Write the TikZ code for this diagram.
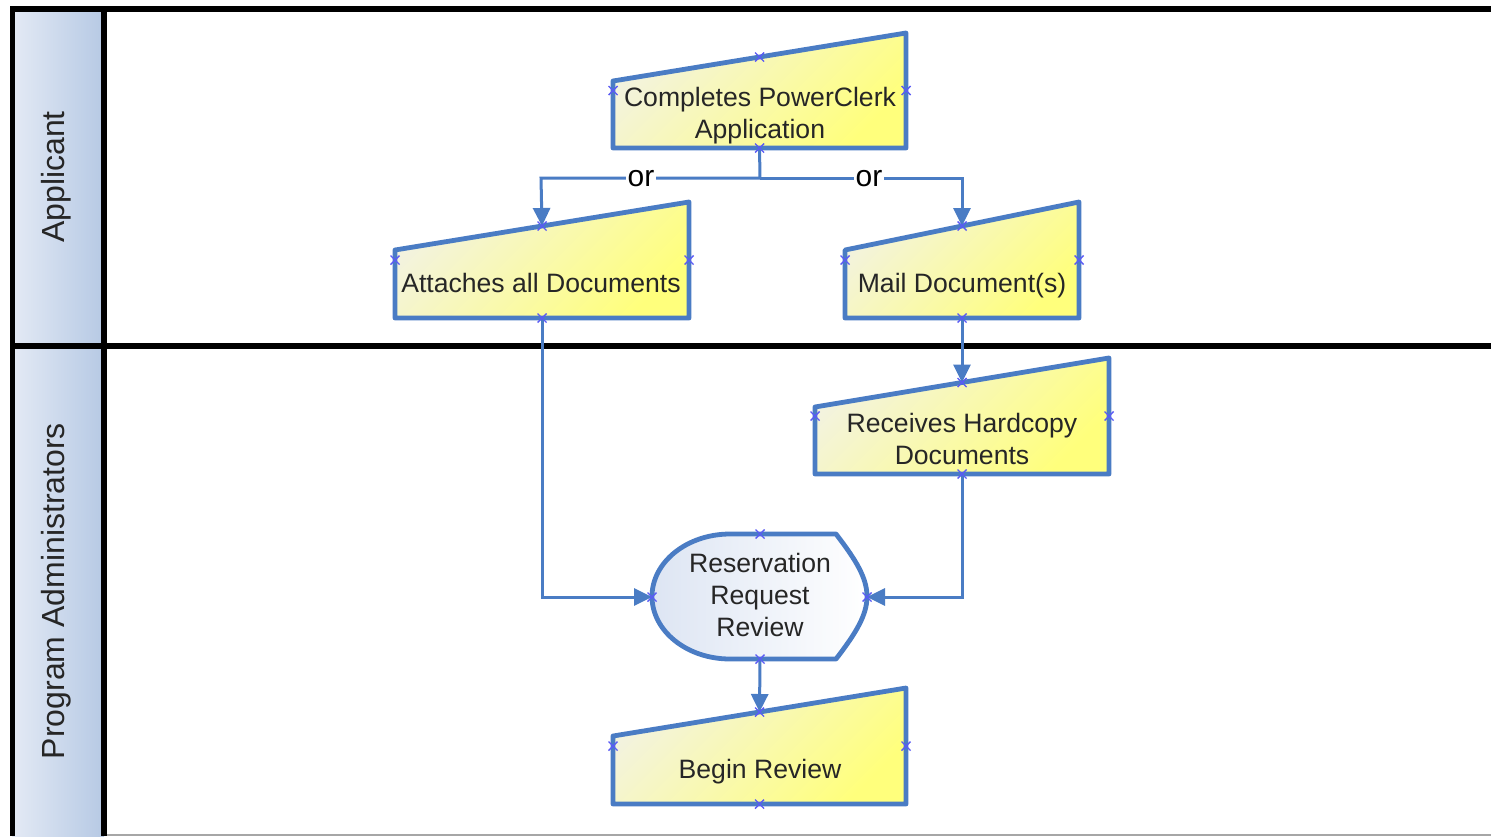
\documentclass[tikz,border=0pt]{standalone}
\usepackage{fontspec}
\setmainfont{Liberation Sans}
\usetikzlibrary{arrows.meta,calc}
\definecolor{flowblue}{HTML}{4A7CC4}
\definecolor{markblue}{HTML}{5A5AF5}
\definecolor{ylight}{HTML}{F3F3DE}
\definecolor{ydark}{HTML}{FFFF7C}
\definecolor{hlight}{HTML}{E4EAF5}
\definecolor{hdark}{HTML}{B6C9E4}
\definecolor{dlight}{HTML}{DDE5F3}
\definecolor{txt}{HTML}{262626}
\tikzset{
  frameline/.style={line width=2.8pt, black},
  shapeborder/.style={draw=flowblue, line width=2.4pt, line join=round},
  yfill/.style={top color=ylight, bottom color=ydark, shading angle=45},
  dfill/.style={left color=dlight, right color=white},
  hfill/.style={left color=hlight, right color=hdark},
  boxtext/.style={text=txt, font=\fontsize{13.3}{16}\selectfont, align=center, inner sep=0pt, anchor=base},
  lanetext/.style={text=txt, font=\fontsize{16}{19}\selectfont, rotate=90, inner sep=0pt},
  ortext/.style={text=black, font=\fontsize{15}{18}\selectfont, fill=white, inner sep=1pt},
  conn/.style={draw=flowblue, line width=1.5pt},
  arr/.style={conn, -{Triangle[length=9pt,width=8.5pt]}},
  cpmarkstyle/.style={draw=markblue, line width=0.7pt},
}
% manual input shape: name, x1, x2, yTopLeft, yTopRight, yBottom
\newcommand\mishape[6]{%
  \path[shapeborder, yfill] (#2,#6) -- (#2,#4) -- (#3,#5) -- (#3,#6) -- cycle;
  \coordinate (#1-t) at ({(#2+#3)/2},{(#4+#5)/2});
  \coordinate (#1-b) at ({(#2+#3)/2},#6);
  \coordinate (#1-l) at (#2,{(#5+#6)/2});
  \coordinate (#1-r) at (#3,{(#5+#6)/2});
}
\newcommand\cpmark[1]{%
  \draw[cpmarkstyle] ($(#1)+(-4.5,-4.5)$) -- ($(#1)+(4.5,4.5)$)
                     ($(#1)+(-4.5,4.5)$) -- ($(#1)+(4.5,-4.5)$);
}
\begin{document}
\begin{tikzpicture}[x=0.5pt,y=-0.5pt]
\useasboundingbox (0,0) rectangle (1491,836);
\fill[white] (0,0) rectangle (1491,836);
% lane headers
\path[hfill] (12,9) rectangle (104,346);
\path[hfill] (12,346) rectangle (104,836);
\node[lanetext] (lane1) at (56,177) {Applicant};
\node[lanetext] (lane2) at (56,591) {Program Administrators};
% frame
\draw[gray!70, line width=1pt] (104,835) -- (1491,835);
\draw[frameline] (10,9) -- (1491,9);
\draw[frameline] (12.5,7) -- (12.5,836);
\draw[frameline] (104,9) -- (104,836);
\draw[frameline] (11,346) -- (1491,346);

% shapes
\mishape{app}{613}{906}{81}{33}{148}
\node[boxtext] (apptext) at (760,138.5) {Completes PowerClerk\\Application};
\mishape{att}{395}{689}{250}{202}{318}
\node[boxtext] (atttext) at (541,292.5) {Attaches all Documents};
\mishape{mail}{845}{1079}{250}{202}{318}
\node[boxtext] (mailtext) at (962,292.5) {Mail Document(s)};
\mishape{rec}{815}{1109}{407}{358}{474}
\node[boxtext] (rectext) at (962,464.5) {Receives Hardcopy\\Documents};
\mishape{beg}{613}{906}{736}{688}{804}
\node[boxtext] (begtext) at (760,778.5) {Begin Review};

% display shape
\path[shapeborder, dfill]
  (730,534) -- (836,534)
  .. controls (856,560) and (867,578) .. (867,596.5)
  .. controls (867,615) and (856,633) .. (836,659) -- (730,659)
  .. controls (687,659) and (652,631) .. (652,596.5)
  .. controls (652,562) and (687,534) .. (730,534) -- cycle;
\coordinate (rev-t) at (760,534);
\coordinate (rev-b) at (760,659);
\coordinate (rev-l) at (652,597);
\coordinate (rev-r) at (867,597);
\node[boxtext] (revtext) at (760,636.5) {Reservation\\Request\\Review};

% connectors
\coordinate (split) at (760,178);
\coordinate (splitL) at (541,178);
\coordinate (splitR) at (962,178);
\draw[conn] (app-b) -- (split);
\draw[arr] (split) -- (splitL) -- (att-t);
\draw[arr] (split) -- (splitR) -- (mail-t);
\node[ortext] (or1) at (641,179) {or};
\node[ortext] (or2) at (869,179) {or};
\draw[arr] (mail-b) -- (rec-t);
\draw[arr] (att-b) |- (rev-l);
\draw[arr] (rec-b) |- (rev-r);
\draw[arr] (rev-b) -- (beg-t);

% connection point marks
\foreach \n in {app,att,mail,rec,beg,rev}{
  \foreach \a in {t,b,l,r}{ \cpmark{\n-\a} }
}
\end{tikzpicture}
\end{document}
